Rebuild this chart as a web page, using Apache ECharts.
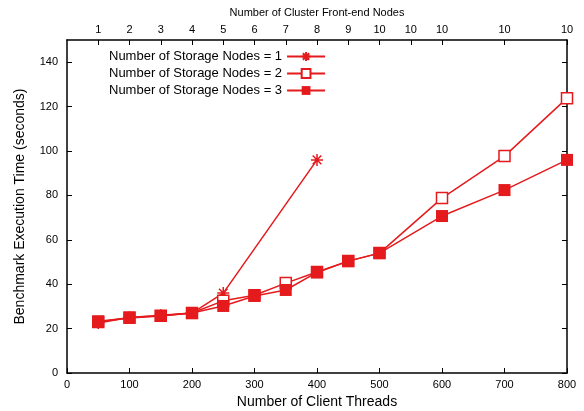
<!DOCTYPE html>
<html>
<head>
<meta charset="utf-8">
<script src="https://cdn.jsdelivr.net/npm/echarts@6/dist/echarts.min.js"></script>
<style>html,body{margin:0;padding:0;background:#fff;}#c{width:584px;height:411px;}</style>
</head>
<body>
<div id="c"></div>
<script>
// Data
var seriesNames = ['Number of Storage Nodes = 1', 'Number of Storage Nodes = 2', 'Number of Storage Nodes = 3'];
var threads1 = [50, 100, 150, 200, 250, 400];
var time1 = [22.5, 25, 26, 27, 36, 96];
var threads23 = [50, 100, 150, 200, 250, 300, 350, 400, 450, 500, 600, 700, 800];
var time2 = [23, 25, 25.8, 27, 32.5, 35, 40.5, 45.5, 50.4, 54, 78.8, 97.7, 123.8];
var time3 = [23.3, 24.8, 25.7, 27, 30.2, 34.7, 37.4, 45.3, 50.4, 54, 70.7, 82.4, 96];
var topTickValues = [50, 100, 150, 200, 250, 300, 350, 400, 450, 500, 550, 600, 700, 800];
var topTickLabels = ['1', '2', '3', '4', '5', '6', '7', '8', '9', '10', '10', '10', '10', '10'];
var yTickValues = [0, 20, 40, 60, 80, 100, 120, 140];

function pairs(xs, ys) { return xs.map(function (x, i) { return [x, ys[i]]; }); }

var RED = '#e41a1c';
var FONT = 'Liberation Sans';
var chart = echarts.init(document.getElementById('c'));
var axisLine = { show: true, onZero: false, lineStyle: { color: '#000', width: 1.5 } };
var tickStyle = { color: '#000', width: 1 };

chart.setOption({
  animation: false,
  textStyle: { fontFamily: FONT },
  grid: { left: 67, right: 17, top: 40, bottom: 38, outerBoundsMode: 'none', containLabel: false },
  legend: {
    orient: 'vertical', left: 104, top: 45, align: 'right',
    itemWidth: 38, itemHeight: 11, itemGap: 4,
    textStyle: { fontFamily: FONT, fontSize: 13, color: '#000' },
    data: seriesNames
  },
  xAxis: [{
    type: 'value', min: 0, max: 800, interval: 100, position: 'bottom',
    name: 'Number of Client Threads', nameLocation: 'middle', nameGap: 22,
    nameTextStyle: { fontSize: 14, color: '#000', fontFamily: FONT },
    axisLine: axisLine,
    axisTick: { inside: true, length: 5, lineStyle: tickStyle },
    axisLabel: { color: '#000', fontSize: 11, margin: 6, fontFamily: FONT },
    splitLine: { show: false }
  }, {
    type: 'value', min: 0, max: 800, position: 'top',
    name: 'Number of Cluster Front-end Nodes', nameLocation: 'middle', nameGap: 22,
    nameTextStyle: { fontSize: 11, color: '#000', fontFamily: FONT },
    axisLine: axisLine,
    axisTick: { inside: true, length: 5, lineStyle: tickStyle, customValues: topTickValues },
    axisLabel: {
      color: '#000', fontSize: 11, margin: 5, fontFamily: FONT,
      customValues: topTickValues,
      formatter: function (v) { var i = topTickValues.indexOf(v); return i >= 0 ? topTickLabels[i] : ''; }
    },
    splitLine: { show: false }
  }],
  yAxis: [{
    type: 'value', min: 0, max: 150, position: 'left',
    name: 'Benchmark Execution Time (seconds)', nameLocation: 'middle', nameGap: 40,
    nameTextStyle: { fontSize: 14, color: '#000', fontFamily: FONT },
    axisLine: axisLine,
    axisTick: { inside: true, length: 5, lineStyle: tickStyle, customValues: yTickValues },
    axisLabel: { color: '#000', fontSize: 11, margin: 9, fontFamily: FONT, customValues: yTickValues },
    splitLine: { show: false }
  }, {
    type: 'value', min: 0, max: 150, position: 'right',
    axisLine: axisLine,
    axisTick: { inside: true, length: 5, lineStyle: tickStyle, customValues: yTickValues },
    axisLabel: { show: false, customValues: yTickValues },
    splitLine: { show: false }
  }],
  series: [{
    name: seriesNames[0], type: 'line', xAxisIndex: 0, yAxisIndex: 0,
    data: pairs(threads1, time1),
    symbol: 'path://M-1,0L1,0M0,-1L0,1M-0.72,-0.72L0.72,0.72M-0.72,0.72L0.72,-0.72',
    symbolSize: 12,
    lineStyle: { color: RED, width: 1.5 },
    itemStyle: { color: RED, borderColor: RED, borderWidth: 1.5 }
  }, {
    name: seriesNames[1], type: 'line', xAxisIndex: 0, yAxisIndex: 0,
    data: pairs(threads23, time2),
    symbol: 'rect', symbolSize: 11,
    lineStyle: { color: RED, width: 1.5 },
    itemStyle: { color: '#fff', borderColor: RED, borderWidth: 1.5 }
  }, {
    name: seriesNames[2], type: 'line', xAxisIndex: 0, yAxisIndex: 0,
    data: pairs(threads23, time3),
    symbol: 'rect', symbolSize: 12,
    lineStyle: { color: RED, width: 1.5 },
    itemStyle: { color: RED }
  }]
});
</script>
</body>
</html>
